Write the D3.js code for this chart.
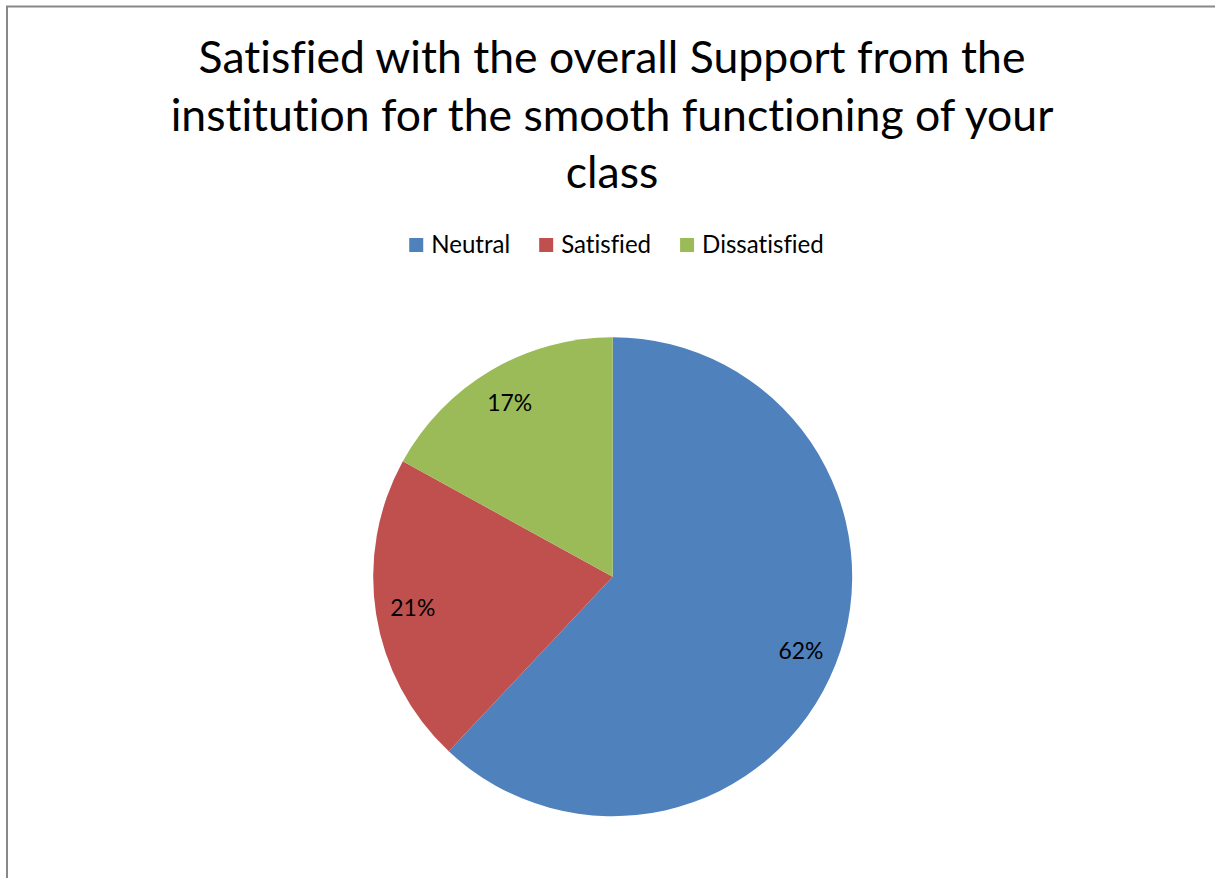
<!DOCTYPE html>
<html>
<head>
<meta charset="UTF-8">
<title>Pie</title>
<style>
  body { margin: 0; background: #fff; }
  svg { display: block; }
  text { font-variant-ligatures: none; }
</style>
</head>
<body>
<script src="https://cdn.jsdelivr.net/npm/d3@7"></script>
<script>
// data
var categories = ["Neutral", "Satisfied", "Dissatisfied"];
var values = [62, 21, 17];
var colors = ["#4f81bd", "#c0504d", "#9bbb59"];
var titleLines = ["Satisfied with the overall Support from the",
                  "institution for the smooth functioning of your",
                  "class"];

var width = 1215, height = 878;
var font = "Lato, 'Open Sans', sans-serif";

var svg = d3.select("body").append("svg")
    .attr("width", width)
    .attr("height", height);

// frame (only left and top edges are visible)
svg.append("rect")
    .attr("x", 7).attr("y", 6.5)
    .attr("width", 1400).attr("height", 1000)
    .attr("fill", "none")
    .attr("stroke", "#888")
    .attr("stroke-width", 2);

// fit text element to a target width by changing font size
function fitWidth(t, target, start) {
    t.attr("font-size", start);
    var w = t.node().getComputedTextLength();
    t.attr("font-size", start * target / w);
    return start * target / w;
}

// title
var titleY = [73, 131, 188];
var t0 = svg.append("text")
    .attr("x", 612).attr("y", titleY[0])
    .attr("text-anchor", "middle")
    .attr("font-family", font)
    .attr("fill", "#000")
    .text(titleLines[0]);
var titleSize = fitWidth(t0, 827, 46);
titleLines.slice(1).forEach(function(line, i) {
    svg.append("text")
        .attr("x", 612).attr("y", titleY[i + 1])
        .attr("text-anchor", "middle")
        .attr("font-family", font)
        .attr("font-size", titleSize)
        .attr("fill", "#000")
        .text(line);
});

// legend font size from the width of "Neutral"
var probe = svg.append("text").attr("font-family", font).text(categories[0]);
var legendSize = fitWidth(probe, 79, 22);
probe.remove();

var legend = svg.append("g");
var lx = 0;
categories.forEach(function(c, i) {
    var g = legend.append("g").attr("transform", "translate(" + lx + ",0)");
    g.append("rect")
        .attr("x", 0).attr("y", -15)
        .attr("width", 14).attr("height", 14)
        .attr("fill", colors[i]);
    var tx = g.append("text")
        .attr("x", 22).attr("y", 0)
        .attr("font-family", font)
        .attr("font-size", legendSize)
        .attr("fill", "#000")
        .text(c);
    lx += 22 + tx.node().getComputedTextLength() + 29;
});
lx -= 29;
legend.attr("transform", "translate(" + (616.5 - lx / 2) + ",253)");

// pie
var cx = 612.7, cy = 576.7, r = 239.5;
var pie = d3.pie().sort(null).value(function(d) { return d; });
var arcs = pie(values);
var arc = d3.arc().innerRadius(0).outerRadius(r);
var labelArc = d3.arc().innerRadius(r * 0.845).outerRadius(r * 0.845);

var probe2 = svg.append("text").attr("font-family", font).text("21%");
var labelSize = fitWidth(probe2, 45, 22);
probe2.remove();

var pg = svg.append("g").attr("transform", "translate(" + cx + "," + cy + ")");
pg.selectAll("path")
    .data(arcs)
    .enter().append("path")
    .attr("d", arc)
    .attr("fill", function(d, i) { return colors[i]; });

pg.selectAll("text")
    .data(arcs)
    .enter().append("text")
    .attr("transform", function(d) { return "translate(" + labelArc.centroid(d) + ")"; })
    .attr("text-anchor", "middle")
    .attr("dy", "0.35em")
    .attr("font-family", font)
    .attr("font-size", labelSize)
    .attr("fill", "#000")
    .text(function(d) { return d.data + "%"; });
</script>
</body>
</html>
